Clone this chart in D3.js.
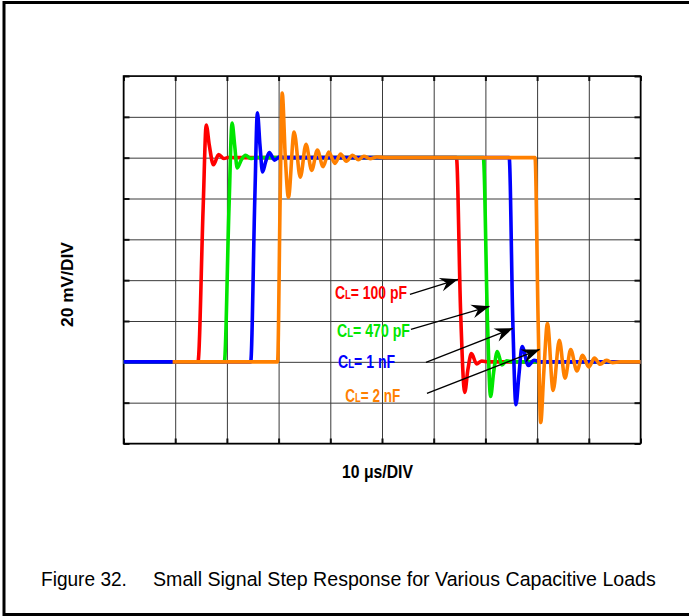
<!DOCTYPE html>
<html>
<head>
<meta http-equiv="Content-Type" content="text/html;charset=utf-8"/>
<script src="https://d3js.org/d3.v7.min.js"></script>
<style type="text/css">
body { margin: 0; background: #fff; }
.grid line { stroke: #3a3a3a; stroke-width: 1px; }
.grid path { display: none; }
.edge line { stroke: #111; stroke-width: 2px; }
.edge path { display: none; }
.trace { fill: none; stroke-width: 3.6px; stroke-linejoin: round; stroke-linecap: butt; }
.arrow { stroke: #000; stroke-width: 1.3px; fill: none; }
text { font-family: "Liberation Sans", Arial, sans-serif; }
</style>
</head>
<body>
<script>

// scope divisions: 10 us/div, 20 mV/div
var xDivs = [0, 10, 20, 30, 40, 50, 60, 70, 80, 90, 100];
var yDivs = [-40, -20, 0, 20, 40, 60, 80, 100, 120, 140];

// traces, [time us, mV]
var trace100pF = [[0,0],[14.4,0],[15.4,75],[16.0,116],[16.6,106],[17.4,96.5],[18.4,101.5],[19.4,99.6],[20.5,100.2],[21.5,100],
  [64.4,100],[65.2,25],[66.0,-15],[66.6,-4],[67.3,4],[68.3,-1],[69.3,0.4],[70.5,0],[100,0]];
var trace470pF = [[0,0],[19.5,0],[20.4,75],[21.0,117],[21.5,106],[22.0,95],[22.8,99],[23.6,101.2],[24.6,99.6],[25.6,100.1],[26.5,100],
  [69.6,100],[70.4,20],[71.0,-17],[71.6,-5],[72.3,5],[73.2,-1.5],[74.1,0.5],[75.2,0],[100,0]];
var trace1nF = [[0,0],[24.6,0],[25.4,80],[25.9,122],[26.4,106],[26.9,93],[27.5,98],[28.2,102.5],[29.2,98.8],[30.2,100.4],[31.2,100],
  [74.6,100],[75.3,20],[75.9,-21],[76.5,-6],[77.1,7.5],[78.3,-1.8],[79.4,0.8],[80.6,0],[100,0]];
var trace2nF = [[9.5,0],[29.8,0],[30.3,80],[30.7,131.6],[31.3,100],[31.9,80.6],[33.0,112.5],[34.2,90.4],[35.3,106.6],[36.4,93.8],
  [37.5,103.7],[38.6,95.6],[39.7,102.8],[40.9,97.2],[42.0,101.8],[43.1,98.3],[44.3,101.2],[45.4,99],[46.5,100.7],[47.7,99.5],
  [49,100.3],[51,100],[79.6,100],[80.2,20],[80.7,-29.7],[81.3,-5],[82.0,18.8],[83.1,-14],[84.3,10.5],[85.4,-8],[86.5,6],
  [87.7,-4.5],[88.8,3.2],[90.0,-2.5],[91.1,1.8],[92.2,-1.2],[93.4,0.7],[94.6,-0.4],[96,0],[100,0]];

var traces = [trace100pF, trace470pF, trace1nF, trace2nF];
var loadLabels = ["= 100 pF", "= 470 pF", "= 1 nF", "= 2 nF"];
var traceColors = ["#ff0000", "#00e600", "#0000ff", "#ff8000"];

// label text start, arrow start, arrow tip (data units)
var notes = [
  {text: [40.9, 30.6], from: [55.4, 33.1], to: [64.7, 40.4], w: 72},
  {text: [41.3, 12.0], from: [55.6, 15.9], to: [70.8, 27.2], w: 73},
  {text: [41.5, -3.2], from: [58.5, -0.3], to: [75.3, 16.4], w: 57},
  {text: [42.9, -19.9], from: [58.7, -15.5], to: [80.5, 6.1], w: 55}
];

var width = 689, height = 616;
var plotLeft = 123.5, plotRight = 640.5, plotTop = 76, plotBottom = 443.5;

var x = d3.scaleLinear().domain([0, 100]).range([plotLeft, plotRight]);
var y = d3.scaleLinear().domain([-40, 140]).range([plotBottom, plotTop]);

var svg = d3.select("body").append("svg")
    .attr("width", width)
    .attr("height", height);

// outer frame (right side runs off the page)
svg.append("rect")
    .attr("x", 4).attr("y", 2.5)
    .attr("width", 720).attr("height", 612)
    .attr("fill", "none").attr("stroke", "#000").attr("stroke-width", 3);

var defs = svg.append("defs");
defs.append("marker")
    .attr("id", "head")
    .attr("markerUnits", "userSpaceOnUse")
    .attr("viewBox", "-19 -8 20 16")
    .attr("markerWidth", 20).attr("markerHeight", 16)
    .attr("refX", 0).attr("refY", 0)
    .attr("orient", "auto")
  .append("path")
    .attr("d", "M0,0 L-18,-7 L-12,0 L-18,7 Z")
    .attr("fill", "#000");

// grid
svg.append("g").attr("class", "grid")
    .attr("transform", "translate(0," + plotBottom + ")")
    .call(d3.axisBottom(x).tickValues(xDivs).tickSize(-(plotBottom - plotTop)).tickFormat(""));
svg.append("g").attr("class", "grid")
    .attr("transform", "translate(" + plotLeft + ",0)")
    .call(d3.axisLeft(y).tickValues(yDivs).tickSize(-(plotRight - plotLeft)).tickFormat(""));

// short dark ticks on the four edges
svg.append("g").attr("class", "edge")
    .attr("transform", "translate(0," + plotBottom + ")")
    .call(d3.axisBottom(x).tickValues(xDivs).tickSize(-5).tickFormat(""));
svg.append("g").attr("class", "edge")
    .attr("transform", "translate(0," + plotTop + ")")
    .call(d3.axisTop(x).tickValues(xDivs).tickSize(-5).tickFormat(""));
svg.append("g").attr("class", "edge")
    .attr("transform", "translate(" + plotLeft + ",0)")
    .call(d3.axisLeft(y).tickValues(yDivs).tickSize(-6).tickFormat(""));
svg.append("g").attr("class", "edge")
    .attr("transform", "translate(" + plotRight + ",0)")
    .call(d3.axisRight(y).tickValues(yDivs).tickSize(-6).tickFormat(""));

svg.append("rect")
    .attr("x", plotLeft).attr("y", plotTop)
    .attr("width", plotRight - plotLeft).attr("height", plotBottom - plotTop)
    .attr("fill", "none").attr("stroke", "#000").attr("stroke-width", 1.5);

var line = d3.line()
    .x(function(d) { return x(d[0]); })
    .y(function(d) { return y(d[1]); })
    .curve(d3.curveMonotoneX);

svg.append("g").selectAll("path")
    .data(traces)
    .enter().append("path")
    .attr("class", "trace")
    .attr("stroke", function(d, i) { return traceColors[i]; })
    .attr("d", line);

// text squeezed to the width it has in the picture
function place(px, py, w, anchor, rot, build) {
  var g = svg.append("g");
  var t = g.append("text").attr("text-anchor", anchor);
  build(t);
  var k = w / t.node().getComputedTextLength();
  g.attr("transform", "translate(" + px + "," + py + ")" + (rot ? " rotate(" + rot + ")" : "") + " scale(" + k + ",1)");
}

notes.forEach(function(n, i) {
  svg.append("line")
      .attr("class", "arrow")
      .attr("x1", x(n.from[0])).attr("y1", y(n.from[1]))
      .attr("x2", x(n.to[0])).attr("y2", y(n.to[1]))
      .attr("marker-end", "url(#head)");
  place(x(n.text[0]), y(n.text[1]), n.w, "start", 0, function(t) {
    t.attr("font-weight", "bold").attr("fill", traceColors[i]).attr("font-size", 17.5);
    t.append("tspan").text("C");
    t.append("tspan").attr("font-size", 12).text("L");
    t.append("tspan").text(loadLabels[i]);
  });
});

place(377.5, 477.5, 71, "middle", 0, function(t) {
  t.attr("font-weight", "bold").attr("font-size", 17.5).text("10 \u03bcs/DIV");
});
place(72.5, 284.5, 85, "middle", -90, function(t) {
  t.attr("font-weight", "bold").attr("font-size", 17).text("20 mV/DIV");
});

place(41, 586, 86, "start", 0, function(t) {
  t.attr("font-size", 20.5).text("Figure 32.");
});
place(153, 586, 503, "start", 0, function(t) {
  t.attr("font-size", 20.5).text("Small Signal Step Response for Various Capacitive Loads");
});

</script>
</body>
</html>
